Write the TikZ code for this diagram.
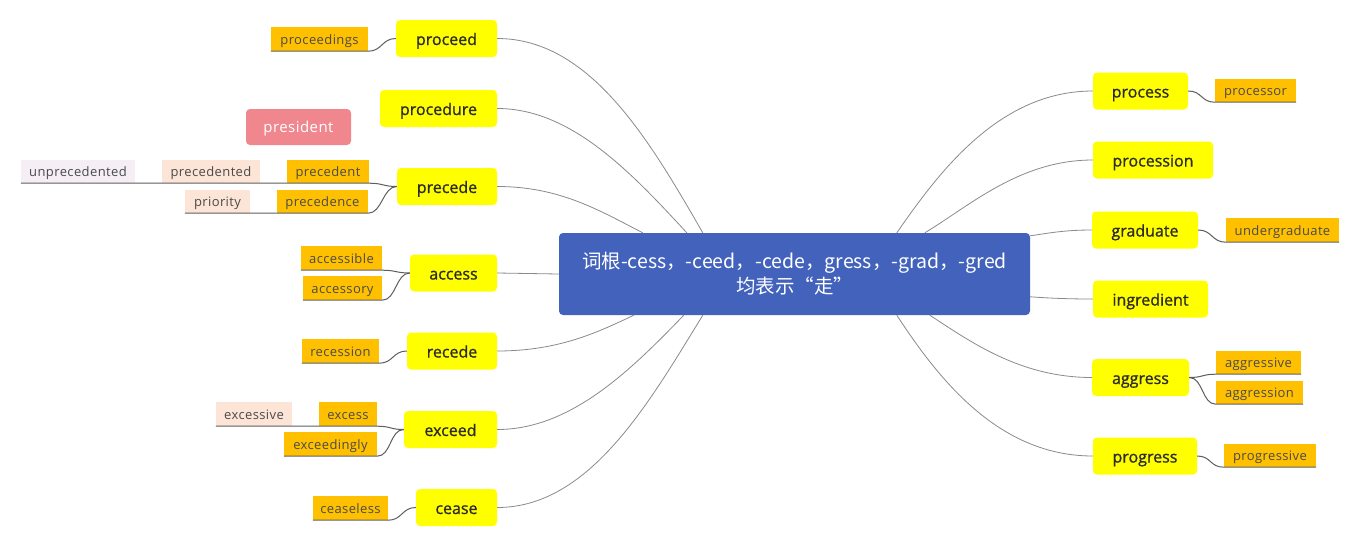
\documentclass[tikz,border=0pt]{standalone}
\usepackage{fontspec}
\setmainfont{Open Sans}
\newfontfamily\cjk{Noto Sans CJK SC}
\newfontfamily\mainbold[FakeBold=1]{Open Sans}
\newfontfamily\subfont[LetterSpace=3]{Open Sans}
\definecolor{rootblue}{HTML}{4262BC}
\definecolor{mainyellow}{HTML}{FFFF00}
\definecolor{suborange}{HTML}{FFC000}
\definecolor{peach}{HTML}{FCE4D6}
\definecolor{lavender}{HTML}{F6EEF5}
\definecolor{pinkred}{HTML}{F0878F}
\definecolor{linegray}{HTML}{8A8A8A}
\definecolor{ulgray}{HTML}{5E5E5E}
\definecolor{textdark}{HTML}{2B2B2B}
\definecolor{subtext}{HTML}{4A4A4A}
\tikzset{
  rootnode/.style={fill=rootblue, rounded corners=4pt, inner sep=0, minimum width=471pt, minimum height=82pt, align=center, text=white, font=\cjk\fontsize{19.5}{25}\selectfont},
  mainnode/.style={fill=mainyellow, rounded corners=4pt, inner sep=0, minimum height=37pt, text=textdark, font=\mainbold\fontsize{16}{19}\selectfont, text height=15pt, text depth=2pt},
  subnode/.style={fill=suborange, inner sep=0, minimum height=24pt, text=subtext, font=\subfont\fontsize{13}{15}\selectfont, text height=12pt, text depth=2pt},
  peachnode/.style={subnode, fill=peach},
  lavnode/.style={subnode, fill=lavender},
  floatnode/.style={fill=pinkred, rounded corners=4pt, inner sep=0, minimum height=36pt, text=white, font=\subfont\fontsize{15}{18}\selectfont, text height=13pt, text depth=2pt},
  conn/.style={draw=linegray, line width=0.8pt},
  uline/.style={draw=ulgray, line width=1pt},
}
\begin{document}
\begin{tikzpicture}[x=1pt,y=-1pt]
\useasboundingbox[fill=white] (0,0) rectangle (1360,547);

% root
\node[rootnode] (root) at (794.5,274) {词根-cess，-ceed，-cede，gress，-grad，-gred\\均表示“走”};

% left main nodes
\node[mainnode, minimum width=101pt] (proceed) at (446.5,38.5) {proceed};
\node[mainnode, minimum width=117pt] (procedure) at (438.5,108.5) {procedure};
\node[mainnode, minimum width=100pt] (precede) at (447,186.5) {precede};
\node[mainnode, minimum width=87pt] (access) at (453.5,273) {access};
\node[mainnode, minimum width=90pt] (recede) at (452,351) {recede};
\node[mainnode, minimum width=93pt] (exceed) at (450.5,429.5) {exceed};
\node[mainnode, minimum width=81pt] (cease) at (456.5,507.5) {cease};

% right main nodes
\node[mainnode, minimum width=95pt] (process) at (1140.5,91) {process};
\node[mainnode, minimum width=120pt] (procession) at (1153,160) {procession};
\node[mainnode, minimum width=106pt] (graduate) at (1145,230) {graduate};
\node[mainnode, minimum width=115pt] (ingredient) at (1150.5,299) {ingredient};
\node[mainnode, minimum width=97pt] (aggress) at (1140.5,377.5) {aggress};
\node[mainnode, minimum width=104pt] (progress) at (1145,456) {progress};

% floating
\node[floatnode, minimum width=105pt] (president) at (298.5,127) {president};

% sub nodes left
\node[subnode, minimum width=97pt] (proceedings) at (319.5,39) {proceedings};
\node[subnode, minimum width=82pt, minimum height=23pt] (precedent) at (328,171.5) {precedent};
\node[peachnode, minimum width=98pt, minimum height=23pt] (precedented) at (211,171.5) {precedented};
\node[lavnode, minimum width=114pt, minimum height=23pt] (unprecedented) at (78,171.5) {unprecedented};
\node[subnode, minimum width=91pt, minimum height=23pt] (precedence) at (322.5,201.5) {precedence};
\node[peachnode, minimum width=65pt, minimum height=23pt] (priority) at (217.5,201.5) {priority};
\node[subnode, minimum width=81pt] (accessible) at (341.5,258) {accessible};
\node[subnode, minimum width=79pt] (accessory) at (342.5,288) {accessory};
\node[subnode, minimum width=77pt] (recession) at (340.5,351) {recession};
\node[subnode, minimum width=58pt] (excess) at (348,414) {excess};
\node[peachnode, minimum width=76pt] (excessive) at (254,414) {excessive};
\node[subnode, minimum width=93pt] (exceedingly) at (330.5,444) {exceedingly};
\node[subnode, minimum width=75pt] (ceaseless) at (350.5,508) {ceaseless};

% sub nodes right
\node[subnode, minimum width=81pt, minimum height=23pt] (processor) at (1255.5,90.5) {processor};
\node[subnode, minimum width=113pt] (undergraduate) at (1282.5,230) {undergraduate};
\node[subnode, minimum width=85pt, minimum height=23pt] (aggressive) at (1258.5,362.5) {aggressive};
\node[subnode, minimum width=87pt, minimum height=23pt] (aggression) at (1259.5,392.5) {aggression};
\node[subnode, minimum width=92pt, minimum height=23pt] (progressive) at (1270,455.5) {progressive};

% attachment points on the root border
\path (root.north west) ++(84,0) coordinate (tPrecede)
      (root.north west) ++(128,0) coordinate (tProcedure)
      (root.north west) ++(144,0) coordinate (tProceed)
      (root.north west) ++(338,0) coordinate (tProcess)
      (root.north west) ++(366,0) coordinate (tProcession)
      (root.south west) ++(75,0) coordinate (tRecede)
      (root.south west) ++(125,0) coordinate (tExceed)
      (root.south west) ++(144,0) coordinate (tCease)
      (root.south west) ++(338,0) coordinate (tProgress)
      (root.south west) ++(371,0) coordinate (tAggress)
      (root.north east) ++(0,3) coordinate (tGraduate)
      (root.north east) ++(0,64) coordinate (tIngredient);

% root connectors left
\draw[conn] (proceed.east) .. controls +(93,0) and +(-53,-92) .. (tProceed);
\draw[conn] (procedure.east) .. controls +(73,0) and +(-57,-62) .. (tProcedure);
\draw[conn] (precede.east) .. controls +(63,0) and +(-43,-22) .. (tPrecede);
\draw[conn] (access.east) -- (root.west);
\draw[conn] (recede.east) .. controls +(63,0) and +(-34,16) .. (tRecede);
\draw[conn] (exceed.east) .. controls +(73,0) and +(-54,56) .. (tExceed);
\draw[conn] (cease.east) .. controls +(93,0) and +(-53,86) .. (tCease);
% root connectors right
\draw[conn] (process.west) .. controls +(-93,0) and +(43,-62) .. (tProcess);
\draw[conn] (procession.west) .. controls +(-73,0) and +(45,-27) .. (tProcession);
\draw[conn] (graduate.west) .. controls +(-30,0) and +(15,-2) .. (tGraduate);
\draw[conn] (ingredient.west) .. controls +(-30,0) and +(15,1) .. (tIngredient);
\draw[conn] (aggress.west) .. controls +(-72,0) and +(40,26) .. (tAggress);
\draw[conn] (progress.west) .. controls +(-93,0) and +(43,66) .. (tProgress);

% sub connectors with underlines (left)
\draw[uline] (proceed.west) .. controls +(-14,0) and +(14,0) .. (proceedings.south east) -- (proceedings.south west);
\draw[uline] (precede.west) .. controls +(-14,0) and +(14,0) .. (precedent.south east) -- (precedent.south west) -- (precedented.south east) -- (precedented.south west) -- (unprecedented.south east) -- (unprecedented.south west);
\draw[uline] (precede.west) .. controls +(-14,0) and +(14,0) .. (precedence.south east) -- (precedence.south west) -- (priority.south east) -- (priority.south west);
\draw[uline] (access.west) .. controls +(-14,0) and +(14,0) .. (accessible.south east) -- (accessible.south west);
\draw[uline] (access.west) .. controls +(-14,0) and +(14,0) .. (accessory.south east) -- (accessory.south west);
\draw[uline] (recede.west) .. controls +(-14,0) and +(14,0) .. (recession.south east) -- (recession.south west);
\draw[uline] (exceed.west) .. controls +(-14,0) and +(14,0) .. (excess.south east) -- (excess.south west) -- (excessive.south east) -- (excessive.south west);
\draw[uline] (exceed.west) .. controls +(-14,0) and +(14,0) .. (exceedingly.south east) -- (exceedingly.south west);
\draw[uline] (cease.west) .. controls +(-14,0) and +(14,0) .. (ceaseless.south east) -- (ceaseless.south west);
% right
\draw[uline] (process.east) .. controls +(14,0) and +(-14,0) .. (processor.south west) -- (processor.south east);
\draw[uline] (graduate.east) .. controls +(14,0) and +(-14,0) .. (undergraduate.south west) -- (undergraduate.south east);
\draw[uline] (aggress.east) .. controls +(14,0) and +(-14,0) .. (aggressive.south west) -- (aggressive.south east);
\draw[uline] (aggress.east) .. controls +(14,0) and +(-14,0) .. (aggression.south west) -- (aggression.south east);
\draw[uline] (progress.east) .. controls +(14,0) and +(-14,0) .. (progressive.south west) -- (progressive.south east);
\end{tikzpicture}
\end{document}
